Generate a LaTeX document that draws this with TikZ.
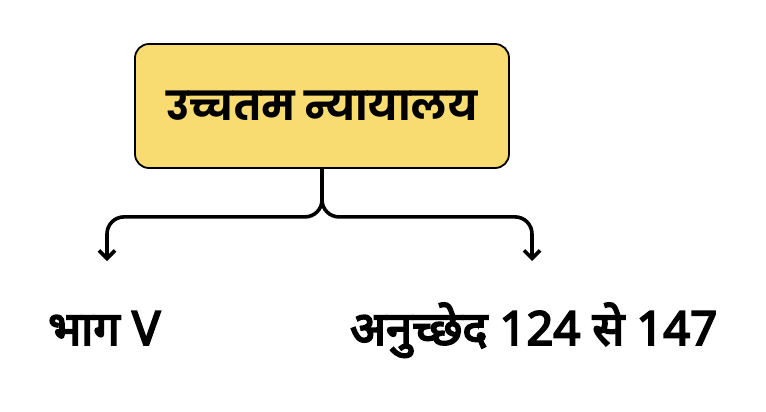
\documentclass[tikz,border=0pt]{standalone}
\usepackage{fontspec}
\newfontfamily\devbox[Script=Devanagari]{Poppins}
\newfontfamily\devlab[Script=Devanagari,FakeBold=4]{Noto Sans}
\usetikzlibrary{arrows.meta}
\definecolor{boxyellow}{HTML}{F8DC72}
\tikzset{
  mainbox/.style={draw=black, line width=1.8pt, fill=boxyellow, rounded corners=14pt,
    minimum width=374pt, minimum height=124pt, inner sep=0pt},
  conn/.style={draw=black, line width=3.6pt, rounded corners=17pt,
    -{Straight Barb[length=8pt,width=16pt,line width=3.6pt]}},
  lab/.style={inner sep=0pt, anchor=base west}
}
\begin{document}
\begin{tikzpicture}[x=1pt,y=-1pt]
\useasboundingbox (0,0) rectangle (766,412);
\node[mainbox] (top) at (322,106) {\fontsize{40}{46}\selectfont\devbox\bfseries उच्चतम न्यायालय};
\coordinate (lt) at (107,261);
\coordinate (rt) at (532,261);
\draw[conn] (top.south) -- ++(0,48) -| (lt);
\draw[conn] (top.south) -- ++(0,48) -| (rt);
\node[lab] (l1) at (48,345) {\fontsize{47}{53}\selectfont\devlab भाग V};
\node[lab] (l2) at (350,345) {\fontsize{47}{53}\selectfont\devlab अनुच्छेद 124 से 147};
\end{tikzpicture}
\end{document}
